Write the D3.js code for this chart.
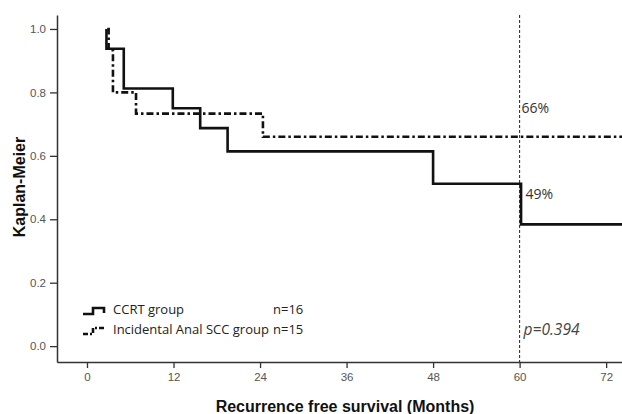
<!DOCTYPE html>
<html><head><meta charset="utf-8">
<script src="https://cdn.jsdelivr.net/npm/d3@7"></script>
<style>html,body{margin:0;padding:0;background:#fff;}</style>
</head><body>
<svg id="c" width="622" height="414"></svg>
<script>
// Data (step curves: value holds from time[i] until time[i+1])
const ccrtTimes = [2.7, 2.7, 5.1, 11.9, 15.7, 19.5, 48.0, 60.2];
const ccrtSurv  = [1.0, 0.9375, 0.8125, 0.75, 0.6875, 0.614, 0.512, 0.384];
const incTimes  = [2.8, 3.0, 3.6, 6.8, 24.4];
const incSurv   = [1.0, 0.933, 0.8, 0.733, 0.66];
const xTicks = [0, 12, 24, 36, 48, 60, 72];
const yTicks = [0.0, 0.2, 0.4, 0.6, 0.8, 1.0];
const legendLabels = ["CCRT group", "Incidental Anal SCC group"];
const legendN = ["n=16", "n=15"];
const annotations = [{t:60, v:0.75, text:"66%", dx:2}, {t:60, v:0.48, text:"49%", dx:6}];
const pText = "p=0.394";
const cutoff = 60;
const tEnd = 74.3;

const svg = d3.select("#c");
const x = d3.scaleLinear().domain([-4.16, 74.2]).range([57, 622]);
const y = d3.scaleLinear().domain([-0.05, 1.044]).range([362, 15]);

// axes
const gy = svg.append("g").attr("transform","translate(57,0)")
  .call(d3.axisLeft(y).tickValues(yTicks).tickFormat(d3.format(".1f")).tickSize(7).tickSizeOuter(0));
const gx = svg.append("g").attr("transform","translate(0,362)")
  .call(d3.axisBottom(x).tickValues(xTicks).tickSize(6).tickSizeOuter(0));
[gx, gy].forEach(g => {
  g.select(".domain").attr("stroke","#333").attr("stroke-width",1.5);
  g.selectAll(".tick line").attr("stroke","#333").attr("stroke-width",1.3);
  g.selectAll(".tick text").attr("fill","#555").attr("font-family","Liberation Sans, Arial, sans-serif").attr("font-size",11.5);
});
gy.selectAll(".tick text").attr("dx", -1);
gx.selectAll(".tick text").attr("dy", "0.9em");

// cutoff line
svg.append("line").attr("x1", x(cutoff)).attr("x2", x(cutoff)).attr("y1", 15).attr("y2", 362)
  .attr("stroke","#222").attr("stroke-width",1).attr("stroke-dasharray","3,2");

function stepPath(times, surv) {
  const pts = [];
  for (let i = 0; i < times.length; i++) {
    if (i > 0) pts.push([times[i], surv[i-1]]);
    pts.push([times[i], surv[i]]);
  }
  pts.push([tEnd, surv[surv.length-1]]);
  return d3.line().x(d => x(d[0])).y(d => y(d[1]))(pts);
}

svg.append("path").attr("d", stepPath(incTimes, incSurv)).attr("fill","none")
  .attr("stroke","#111").attr("stroke-width",2.6).attr("stroke-dasharray","7,3,2.5,3");
svg.append("path").attr("d", stepPath(ccrtTimes, ccrtSurv)).attr("fill","none")
  .attr("stroke","#111").attr("stroke-width",2.6);

// annotations
const fontTxt = "'Open Sans', 'Segoe UI', sans-serif";
annotations.forEach(a => {
  svg.append("text").attr("x", x(a.t) + a.dx).attr("y", y(a.v)).attr("dy","0.35em")
    .attr("font-family", fontTxt).attr("font-size", 14).attr("fill","#333").text(a.text);
});
svg.append("text").attr("x", x(cutoff)+4).attr("y", 330).attr("dy","0.35em")
  .attr("font-family", fontTxt).attr("font-size", 15.5).attr("font-style","italic").attr("fill","#444").text(pText);

// legend
const lg = svg.append("g");
const ly = [308, 328];
lg.append("path").attr("d", `M83,${ly[0]+6}H93V${ly[0]}H104V${ly[0]+5}`).attr("fill","none").attr("stroke","#111").attr("stroke-width",2.6);
lg.append("path").attr("d", `M83,${ly[1]+6}H93V${ly[1]}H104`).attr("fill","none").attr("stroke","#111").attr("stroke-width",2.6).attr("stroke-dasharray","5,2,2,2");
legendLabels.forEach((l, i) => {
  lg.append("text").attr("x", 113).attr("y", ly[i]+1).attr("dy","0.35em").attr("font-family", fontTxt).attr("font-size",13).attr("fill","#222").text(l);
  lg.append("text").attr("x", 273).attr("y", ly[i]+1).attr("dy","0.35em").attr("font-family", fontTxt).attr("font-size",13).attr("fill","#222").text(legendN[i]);
});

// axis titles
svg.append("text").attr("x", 345).attr("y", 406).attr("dy","0.35em").attr("text-anchor","middle")
  .attr("font-family","Liberation Sans, Arial, sans-serif").attr("font-weight","bold").attr("font-size",16).attr("fill","#111")
  .text("Recurrence free survival (Months)");
svg.append("text").attr("transform","translate(19,187) rotate(-90)").attr("dy","0.35em").attr("text-anchor","middle")
  .attr("font-family","Liberation Sans, Arial, sans-serif").attr("font-weight","bold").attr("font-size",16).attr("fill","#111")
  .text("Kaplan-Meier");
</script>
</body></html>
